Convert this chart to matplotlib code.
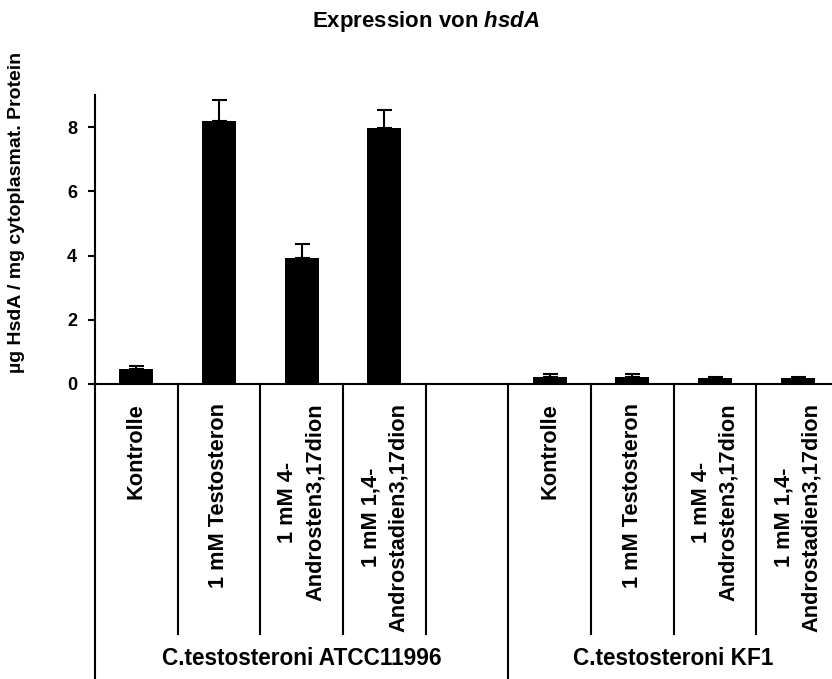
import numpy as np
import matplotlib
matplotlib.use("Agg")
import matplotlib.pyplot as plt

plt.rcParams['font.family'] = ['Liberation Sans', 'DejaVu Sans']
plt.rcParams['font.weight'] = 'bold'
plt.rcParams['mathtext.fontset'] = 'custom'
plt.rcParams['mathtext.rm'] = 'Liberation Sans:bold'
plt.rcParams['mathtext.bf'] = 'Liberation Sans:bold'
plt.rcParams['mathtext.it'] = 'Liberation Sans:bold:italic'

# data
labels = ['Kontrolle', '1 mM Testosteron', '1 mM 4-\nAndrosten3,17dion',
          '1 mM 1,4-\nAndrostadien3,17dion']
atcc_vals = [0.47, 8.20, 3.93, 7.97]
atcc_err = [0.08, 0.65, 0.43, 0.57]
kf1_vals = [0.22, 0.22, 0.20, 0.20]
kf1_err = [0.08, 0.08, 0.02, 0.02]
groups = ['C.testosteroni ATCC11996', 'C.testosteroni KF1']

atcc_x = np.arange(4) + 0.5
kf1_x = np.arange(4) + 5.5

fig = plt.figure(figsize=(8.32, 6.79), dpi=100)
ax = fig.add_axes([95 / 832, 295 / 679, 744 / 832, 289 / 679])

for xs, vals, errs in [(atcc_x, atcc_vals, atcc_err), (kf1_x, kf1_vals, kf1_err)]:
    ax.bar(xs, vals, width=0.41, color='black', zorder=2)
    ax.errorbar(xs, vals, yerr=[np.zeros(len(errs)), errs], fmt='none',
                ecolor='black', elinewidth=1.5, capsize=5.4, capthick=1.5, zorder=3)

ax.set_xlim(0, 9)
ax.set_ylim(0, 9)
ax.set_yticks([0, 2, 4, 6, 8])
ax.tick_params(axis='y', length=5, width=1.5, pad=8, labelsize=13)
ax.tick_params(axis='x', length=0, labelbottom=False)
for s in ['top', 'right']:
    ax.spines[s].set_visible(False)
ax.spines['left'].set_linewidth(1.5)
ax.spines['bottom'].set_linewidth(1.5)

# table-like separators under the axis
for xv in [1, 2, 3, 4, 6, 7, 8]:
    ax.plot([xv, xv], [0, -7.8], color='black', lw=1.5, clip_on=False)
for xv in [0, 5]:
    ax.plot([xv, xv], [0, -9.4], color='black', lw=1.5, clip_on=False)

for xs in [atcc_x, kf1_x]:
    for xv, lab in zip(xs, labels):
        ax.text(xv, -0.6, lab, rotation=90, ha='center', va='top',
                multialignment='center', linespacing=1.4, fontsize=15.7,
                fontweight='bold', clip_on=False)

ax.text(2.5, -8.55, groups[0], ha='center', va='center', fontsize=16.3, fontweight='bold')
ax.text(7.0, -8.55, groups[1], ha='center', va='center', fontsize=16.3, fontweight='bold')

fig.text(426 / 832, 1 - 21 / 679, r'Expression von $\mathit{hsdA}$', ha='center',
         va='center', fontsize=16, fontweight='bold')
fig.text(17 / 832, 1 - 212 / 679, 'µg HsdA / mg cytoplasmat. Protein', rotation=90,
         ha='center', va='center', fontsize=14, fontweight='bold')

plt.savefig('out.png', dpi=100)
